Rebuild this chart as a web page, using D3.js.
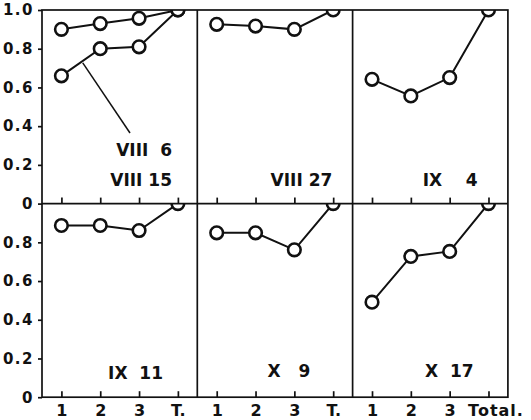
<!DOCTYPE html>
<html>
<head>
<meta charset="utf-8">
<script src="https://cdn.jsdelivr.net/npm/d3@7"></script>
<style>
  body { margin: 0; background: #fff; }
  svg text { font-family: "DejaVu Sans", sans-serif; font-weight: bold; fill: #111; }
</style>
</head>
<body>
<div id="chart"></div>
<script>
// x categories (last panel prints "Total." instead of "T.")
const steps = ["1", "2", "3", "T."];

// series (fraction, 0..1)
const viii6  = [0.66, 0.80, 0.81, 1.0];
const viii15 = [0.90, 0.93, 0.957, 1.0];
const viii27 = [0.926, 0.917, 0.90, 1.0];
const ix4    = [0.642, 0.556, 0.651, 1.0];
const ix11   = [0.887, 0.887, 0.861, 1.0];
const x9     = [0.849, 0.849, 0.761, 1.0];
const x17    = [0.491, 0.727, 0.753, 1.0];

const panelSeries = [[viii6, viii15], [viii27], [ix4], [ix11], [x9], [x17]];
const panelLabels = [["VIII  6", "VIII 15"], ["VIII 27"], ["IX    4"], ["IX  11"], ["X   9"], ["X  17"]];

const W = 531, H = 420;
const marginLeft = 42, marginTop = 10;
const pw = 155.3, ph = 193.6;

const svg = d3.select("#chart").append("svg")
    .attr("width", W).attr("height", H);

const x = d3.scalePoint().domain(steps).range([0, pw]).padding(0.5);
const y = d3.scaleLinear().domain([0, 1]).range([ph, 0]);

const fmt = d => d === 0 ? "0" : d3.format(".1f")(d);

panelSeries.forEach(function(series, i) {
  const col = i % 3, row = Math.floor(i / 3);
  const g = svg.append("g")
      .attr("transform", "translate(" + (marginLeft + col * pw) + "," + (marginTop + row * ph) + ")");

  g.append("clipPath").attr("id", "clip" + i)
    .append("rect").attr("width", pw).attr("height", ph);

  // x ticks pointing into the panel
  const xa = d3.axisBottom(x).tickSizeInner(-6).tickSizeOuter(0).tickPadding(7);
  if (row === 0) xa.tickFormat("");
  if (i === 5) xa.tickFormat(d => d === "T." ? "Total." : d);
  const xg = g.append("g").attr("transform", "translate(0," + ph + ")").call(xa);
  xg.select(".domain").remove();
  xg.selectAll("line").attr("stroke", "#111").attr("stroke-width", 1.7);
  xg.selectAll("text").style("font-size", "16px").attr("fill", "#111");
  if (i === 5) xg.selectAll("text").filter(d => d === "T.")
      .attr("dx", 7).style("letter-spacing", "1px");

  if (col === 0) {
    const ya = d3.axisLeft(y)
        .tickValues(row === 0 ? [0, 0.2, 0.4, 0.6, 0.8, 1] : [0, 0.2, 0.4, 0.6, 0.8])
        .tickFormat(fmt).tickSize(4).tickPadding(4);
    const yg = g.append("g").call(ya);
    yg.select(".domain").remove();
    yg.selectAll("line").attr("stroke", "#111").attr("stroke-width", 1.7);
    yg.selectAll("text").style("font-size", "15px").style("letter-spacing", "1.5px").attr("fill", "#111");
  }

  const plot = g.append("g").attr("clip-path", "url(#clip" + i + ")");
  const line = d3.line().x((d, j) => x(steps[j])).y(d => y(d));

  series.forEach(function(s) {
    plot.append("path").datum(s)
      .attr("d", line)
      .attr("fill", "none").attr("stroke", "#111").attr("stroke-width", 2);
  });
  series.forEach(function(s) {
    plot.selectAll(null).data(s).enter().append("circle")
      .attr("cx", (d, j) => x(steps[j]))
      .attr("cy", d => y(d))
      .attr("r", 6.3)
      .attr("fill", "#fff").attr("stroke", "#111").attr("stroke-width", 2.6);
  });

  // panel names
  const names = panelLabels[i];
  const nameX = [130, 135, 125, 121, 113, 121][i];
  names.forEach(function(n, k) {
    g.append("text")
      .attr("x", nameX).attr("y", row === 0 ? 146 + (names.length === 1 ? 30 : k * 30) : 175 - 2 * (i > 3))
      .attr("text-anchor", "end")
      .style("font-size", "17px")
      .style("white-space", "pre")
      .text(n);
  });

  // leader line from VIII 6 curve to its label
  if (i === 0) {
    const t = 0.55;
    const sx = x("1") + t * (x("2") - x("1"));
    const sy = y(viii6[0]) + t * (y(viii6[1]) - y(viii6[0]));
    g.append("line")
      .attr("x1", sx).attr("y1", sy + 2)
      .attr("x2", 88).attr("y2", 123)
      .attr("stroke", "#111").attr("stroke-width", 1.5);
  }
});

// frame
const frame = svg.append("g").attr("fill", "none").attr("stroke", "#111").attr("stroke-width", 1.7);
frame.append("rect").attr("x", marginLeft).attr("y", marginTop).attr("width", pw * 3).attr("height", ph * 2);
frame.append("line").attr("x1", marginLeft).attr("x2", marginLeft + pw * 3).attr("y1", marginTop + ph).attr("y2", marginTop + ph);
[1, 2].forEach(c => frame.append("line")
  .attr("x1", marginLeft + c * pw).attr("x2", marginLeft + c * pw).attr("y1", marginTop).attr("y2", marginTop + ph * 2));
</script>
</body>
</html>
